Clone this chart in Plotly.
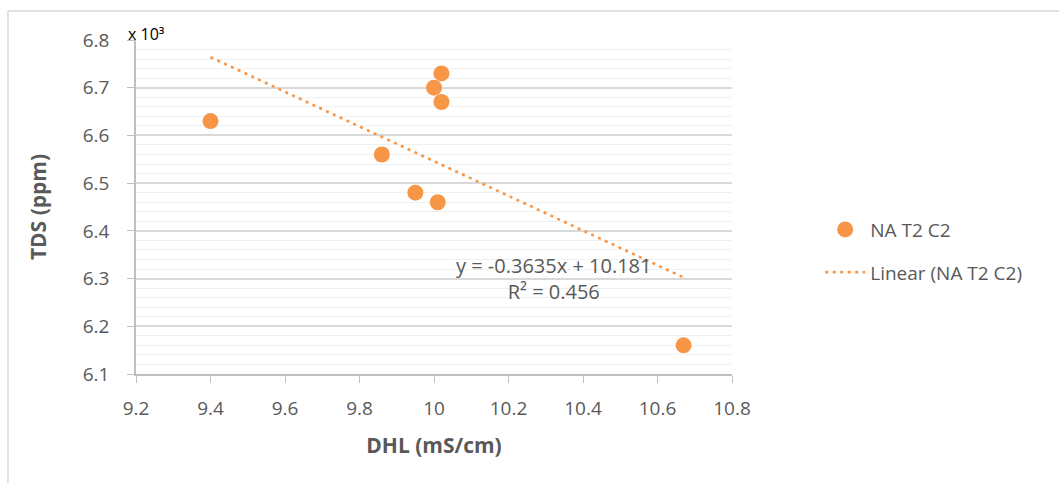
import plotly.graph_objects as go

# DHL (mS/cm) vs TDS (ppm, x 10^3) for series NA T2 C2
dhl = [9.40, 9.86, 9.95, 10.00, 10.01, 10.02, 10.02, 10.67]
tds = [6.63, 6.56, 6.48, 6.70, 6.46, 6.73, 6.67, 6.16]

# Linear trendline coefficients
slope = -0.3635
intercept = 10.181
r_squared = 0.456

x_ticks = [9.2, 9.4, 9.6, 9.8, 10.0, 10.2, 10.4, 10.6, 10.8]
x_tick_text = ["9.2", "9.4", "9.6", "9.8", "10", "10.2", "10.4", "10.6", "10.8"]
y_ticks = [6.1, 6.2, 6.3, 6.4, 6.5, 6.6, 6.7, 6.8]

orange = "#F79646"
grey_text = "#595959"
font_family = "Open Sans, Liberation Sans, sans-serif"

trend_x = [min(dhl), max(dhl)]
trend_y = [slope * v + intercept for v in trend_x]

fig = go.Figure()
fig.add_trace(go.Scatter(
    x=dhl, y=tds, mode="markers", name="NA T2 C2", legendgroup="data",
    marker=dict(color=orange, size=16, line=dict(width=0)),
))
fig.add_trace(go.Scatter(
    x=trend_x, y=trend_y, mode="lines", name="Linear (NA T2 C2)", legendgroup="trend",
    line=dict(color=orange, width=2.6, dash="3px,4.5px"),
))

fig.update_layout(
    width=1059, height=483,
    margin=dict(l=136, r=327, t=40, b=109),
    paper_bgcolor="white", plot_bgcolor="white",
    font=dict(family=font_family, color=grey_text, size=19),
    showlegend=True,
    legend=dict(
        x=1.148, y=0.368, xanchor="left", yanchor="middle",
        font=dict(size=19, color=grey_text),
        itemwidth=40, tracegroupgap=15, bgcolor="rgba(0,0,0,0)",
    ),
    xaxis=dict(
        range=[9.2, 10.8], tickvals=x_ticks, ticktext=x_tick_text,
        showgrid=False, zeroline=False,
        showline=True, linecolor="#bfbfbf", linewidth=1.5,
        ticks="outside", ticklen=7, tickcolor="#bfbfbf",
        ticklabelstandoff=9,
        tickfont=dict(size=19, color=grey_text),
        title=dict(text="<b>DHL (mS/cm)</b>", font=dict(size=21, color=grey_text), standoff=19),
    ),
    yaxis=dict(
        range=[6.1, 6.8], tickvals=y_ticks, tickformat=".1f",
        showgrid=True, gridcolor="#d9d9d9", gridwidth=1.5,
        minor=dict(dtick=0.02, showgrid=True, gridcolor="#f0f0f0", gridwidth=1.2),
        zeroline=False,
        showline=True, linecolor="#bfbfbf", linewidth=1.5,
        ticks="outside", ticklen=7, tickcolor="#bfbfbf",
        ticklabelstandoff=14,
        tickfont=dict(size=19, color=grey_text),
        title=dict(text="<b>TDS (ppm)</b>", font=dict(size=21, color=grey_text), standoff=30),
    ),
    annotations=[
        dict(xref="paper", yref="paper", x=-0.016, y=0.98, xanchor="left", yanchor="bottom",
             text="x 10³", showarrow=False, font=dict(size=16, color="#000000")),
        dict(xref="x", yref="y", x=10.32, y=6.30, xanchor="center", yanchor="middle",
             text=f"y = {slope}x + {intercept}<br>R² = {r_squared}",
             showarrow=False, font=dict(size=20, color=grey_text)),
    ],
    shapes=[
        dict(type="line", xref="paper", yref="paper", x0=-0.2148, x1=1.6, y0=1.0868, y1=1.0868,
             line=dict(color="#d9d9d9", width=1.5)),
        dict(type="line", xref="paper", yref="paper", x0=-0.2148, x1=-0.2148, y0=1.0868, y1=-0.4,
             line=dict(color="#d9d9d9", width=1.5)),
    ],
)

fig.write_html("out.html")
